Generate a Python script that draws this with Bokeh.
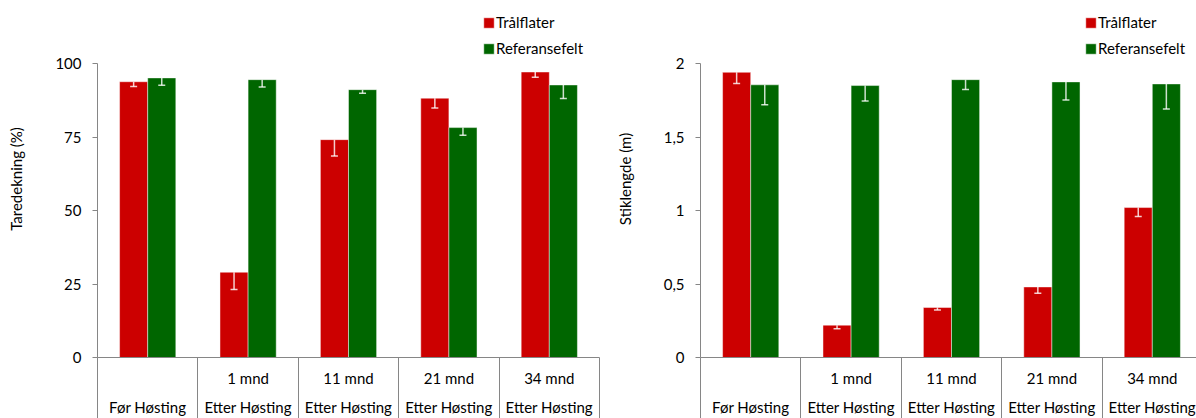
from bokeh.plotting import figure
from bokeh.models import (ColumnDataSource, Range1d, LinearAxis, FixedTicker,
                          Legend, LegendItem, Whisker, TeeHead)
from bokeh.layouts import row
from bokeh.embed import file_html
from bokeh.resources import INLINE

# ---------------- data ----------------
periods = ["Før Høsting", "Etter Høsting", "Etter Høsting", "Etter Høsting", "Etter Høsting"]
months = ["", "1 mnd", "11 mnd", "21 mnd", "34 mnd"]
series_names = ["Trålflater", "Referansefelt"]

taredekning_tral = [93.8, 29.0, 74.1, 88.2, 97.1]
taredekning_tral_err = [1.6, 5.9, 5.6, 3.3, 1.8]
taredekning_ref = [95.1, 94.5, 91.1, 78.2, 92.7]
taredekning_ref_err = [2.5, 2.5, 1.2, 2.6, 4.6]

stiklengde_tral = [1.94, 0.22, 0.34, 0.48, 1.02]
stiklengde_tral_err = [0.076, 0.024, 0.017, 0.043, 0.06]
stiklengde_ref = [1.855, 1.85, 1.89, 1.875, 1.861]
stiklengde_ref_err = [0.135, 0.105, 0.067, 0.123, 0.171]

taredekning_ticks = [0, 25, 50, 75, 100]
taredekning_tick_labels = ["0", "25", "50", "75", "100"]
stiklengde_ticks = [0, 0.5, 1, 1.5, 2]
stiklengde_tick_labels = ["0", "0,5", "1", "1,5", "2"]

# ---------------- style ----------------
RED = "#CC0000"
GREEN = "#006600"
AXIS = "#868686"
FONT = "Lato"
TXT = "#000000"
FS = "15px"
FRAME_H = 357      # frame from top of figure down to the zero line
AXIS_H = 294       # pixels from zero line to top of value axis


def make_chart(tral, tral_err, ref, ref_err, ylabel, yticks, ylabels, ymax,
               width, xend, border_left, border_right, legend_x):
    n = len(months)
    xs = list(range(1, n + 1))
    p = figure(width=width, height=418, x_range=Range1d(0.5, xend),
               y_range=Range1d(0, ymax * FRAME_H / AXIS_H), x_axis_type=None,
               output_backend="svg", toolbar_location=None,
               min_border_left=border_left, min_border_right=border_right,
               min_border_top=0, min_border_bottom=61)
    p.outline_line_color = None
    p.ygrid.visible = False
    p.background_fill_color = "white"
    p.border_fill_color = "white"

    off = 0.14
    bw = 0.28
    src_t = ColumnDataSource(dict(x=[x - off for x in xs], top=tral,
                                  lower=[v - e for v, e in zip(tral, tral_err)]))
    src_r = ColumnDataSource(dict(x=[x + off for x in xs], top=ref,
                                  lower=[v - e for v, e in zip(ref, ref_err)]))
    r1 = p.vbar(x="x", top="top", width=bw, source=src_t, fill_color=RED,
                line_color="white", line_alpha=0.45, line_width=1)
    r2 = p.vbar(x="x", top="top", width=bw, source=src_r, fill_color=GREEN,
                line_color="white", line_alpha=0.45, line_width=1)

    for src in (src_t, src_r):
        w = Whisker(base="x", lower="lower", upper="top", source=src,
                    upper_head=None, level="overlay",
                    lower_head=TeeHead(size=7, line_color="white", line_alpha=0.8,
                                       line_width=1.5),
                    line_color="white", line_alpha=0.8, line_width=1.5)
        p.add_layout(w)

    # y axis
    ya = p.yaxis[0]
    ya.bounds = (0, ymax)
    ya.ticker = FixedTicker(ticks=yticks, minor_ticks=[])
    ya.major_label_overrides = {t: l for t, l in zip(yticks, ylabels)}
    ya.axis_line_color = AXIS
    ya.major_tick_line_color = AXIS
    ya.major_tick_out = 5
    ya.major_tick_in = 0
    ya.minor_tick_line_color = None
    ya.major_label_standoff = 11
    ya.major_label_text_font = FONT
    ya.major_label_text_font_size = FS
    ya.major_label_text_color = TXT
    ya.axis_label = ylabel
    ya.axis_label_text_font = FONT
    ya.axis_label_text_font_size = FS
    ya.axis_label_text_font_style = "normal"
    ya.axis_label_text_color = TXT
    ya.axis_label_standoff = 27

    # x axis: month row with category separators
    bounds = [x - 0.5 for x in xs] + [xs[-1] + 0.5]
    xa1 = LinearAxis(ticker=FixedTicker(ticks=xs, minor_ticks=bounds),
                     major_label_overrides={x: m for x, m in zip(xs, months)})
    xa1.axis_line_color = AXIS
    xa1.major_tick_line_color = None
    xa1.major_tick_out = 0
    xa1.major_tick_in = 0
    xa1.minor_tick_line_color = AXIS
    xa1.minor_tick_out = 61
    xa1.minor_tick_in = 0
    xa1.major_label_standoff = -50
    xa1.major_label_text_font = FONT
    xa1.major_label_text_font_size = FS
    xa1.major_label_text_color = TXT
    p.add_layout(xa1, "below")

    # x axis: period row
    xa2 = LinearAxis(ticker=FixedTicker(ticks=xs, minor_ticks=[]),
                     major_label_overrides={x: c for x, c in zip(xs, periods)})
    xa2.axis_line_color = None
    xa2.major_tick_line_color = None
    xa2.major_tick_out = 0
    xa2.major_tick_in = 0
    xa2.minor_tick_line_color = None
    xa2.major_label_standoff = 8
    xa2.major_label_text_font = FONT
    xa2.major_label_text_font_size = FS
    xa2.major_label_text_color = TXT
    p.add_layout(xa2, "below")

    legend = Legend(items=[LegendItem(label=series_names[0], renderers=[r1]),
                           LegendItem(label=series_names[1], renderers=[r2])],
                    location=(legend_x, 299), orientation="vertical",
                    border_line_color=None, background_fill_alpha=0,
                    padding=0, margin=0, spacing=6,
                    glyph_width=13, glyph_height=13, label_height=20,
                    label_standoff=1, label_text_font=FONT,
                    label_text_font_size=FS, label_text_color=TXT)
    p.add_layout(legend, "center")
    return p


p1 = make_chart(taredekning_tral, taredekning_tral_err, taredekning_ref,
                taredekning_ref_err, "Taredekning (%)", taredekning_ticks,
                taredekning_tick_labels, 100, 600, 5.5, 97, 1, 385)
p2 = make_chart(stiklengde_tral, stiklengde_tral_err, stiklengde_ref,
                stiklengde_ref_err, "Stiklengde (m)", stiklengde_ticks,
                stiklengde_tick_labels, 2, 596, 0.5 + 496 / 100.4, 100, 0, 384)

p = row(p1, p2)
open("out.html", "w").write(file_html(p, INLINE))
